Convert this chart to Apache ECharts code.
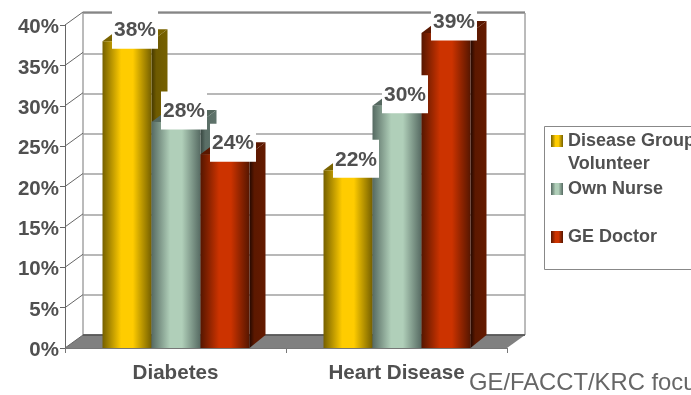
<!DOCTYPE html>
<html>
<head>
<meta charset="utf-8">
<style>html,body{margin:0;padding:0;background:#fff;overflow:hidden}#c{width:691px;height:395px}</style>
<script src="https://cdn.jsdelivr.net/npm/echarts@6/dist/echarts.min.js"></script>
</head>
<body>
<div id="c"></div>
<script>
// Survey results: who patients would trust, by condition
const categories = ['Diabetes', 'Heart Disease'];
const volunteer = [38, 22];
const ownNurse = [28, 30];
const geDoctor = [24, 39];
const seriesNames = ['Disease Group\nVolunteer', 'Own Nurse', 'GE Doctor'];
const percentTicks = [0, 5, 10, 15, 20, 25, 30, 35, 40];
const sourceNote = 'GE/FACCT/KRC focu';

const FONT = '"Liberation Sans", Arial, sans-serif';
const INK = '#505050';
const FLOOR_DX = 18, FLOOR_DY = 13;
const BAR_DX = 16, BAR_DY = 12;
const BAR_SHARE = 0.2217;

const palettes = [
  { edge: '#756000', mid: '#ffcc00', side: ['#453800', '#6e5a00', '#766100'], top: '#7a6400' },
  { edge: '#566a62', mid: '#b0cfb9', side: ['#36453f', '#5a6e66', '#5f736b'], top: '#55685f' },
  { edge: '#561600', mid: '#cc3300', side: ['#240800', '#5c1800', '#641a00'], top: '#5a1700' }
];

function barGradient(p) {
  return {
    type: 'linear', x: 0, y: 0, x2: 1, y2: 0,
    colorStops: [
      { offset: 0, color: p.edge },
      { offset: 0.38, color: p.mid },
      { offset: 0.62, color: p.mid },
      { offset: 1, color: p.edge }
    ]
  };
}
function sideGradient(p) {
  return {
    type: 'linear', x: 0, y: 0, x2: 1, y2: 0,
    colorStops: [
      { offset: 0, color: p.side[0] },
      { offset: 0.3, color: p.side[1] },
      { offset: 1, color: p.side[2] }
    ]
  };
}

// One extruded bar: front face, right side and lid
function barRenderer(slot) {
  const p = palettes[slot];
  return function (params, api) {
    const cat = api.value(0), val = api.value(1);
    const top = api.coord([cat, val]);
    const base = api.coord([cat, 0]);
    const w = api.size([1, 0])[0] * BAR_SHARE;
    const x = top[0] + (slot - 1) * w - w / 2 + 0.5;
    return {
      type: 'group',
      children: [
        {
          type: 'polygon',
          shape: { points: [[x + w, top[1]], [x + w + BAR_DX, top[1] - BAR_DY], [x + w + BAR_DX, base[1] - FLOOR_DY], [x + w, base[1]]] },
          style: { fill: sideGradient(p) }
        },
        {
          type: 'polygon',
          shape: { points: [[x, top[1]], [x + BAR_DX, top[1] - BAR_DY], [x + w + BAR_DX, top[1] - BAR_DY], [x + w, top[1]]] },
          style: { fill: p.top }
        },
        {
          type: 'rect',
          shape: { x: x, y: top[1], width: w, height: base[1] - top[1] },
          style: { fill: barGradient(p) }
        }
      ]
    };
  };
}

// White tag with the value, sitting over the lid of its bar
function tagRenderer(slot) {
  return function (params, api) {
    const cat = api.value(0), val = api.value(1);
    const top = api.coord([cat, val]);
    const w = api.size([1, 0])[0] * BAR_SHARE;
    const cx = top[0] + (slot - 1) * w + 8.5;
    const cy = top[1] - 11.5;
    return {
      type: 'group',
      children: [
        { type: 'rect', shape: { x: cx - 23, y: cy - 19, width: 46, height: 38 }, style: { fill: '#ffffff' } },
        {
          type: 'text',
          style: { x: cx, y: cy + 1, text: val + '%', fill: INK, font: 'bold 21px ' + FONT, textAlign: 'center', textVerticalAlign: 'middle' }
        }
      ]
    };
  };
}

// Floor plate, the short diagonals joining the front axis to the back wall,
// and the darker top edge of the back wall
function floorRenderer(params, api) {
  const cs = params.coordSys;
  const b = cs.y + cs.height, l = cs.x, r = cs.x + cs.width;
  if (params.dataIndex === 0) {
    return {
      type: 'group',
      children: [
        { type: 'polygon', shape: { points: [[l, b], [l + FLOOR_DX, b - FLOOR_DY], [r + FLOOR_DX, b - FLOOR_DY], [r, b]] }, style: { fill: '#808080' } },
        { type: 'line', shape: { x1: l + FLOOR_DX, y1: b - FLOOR_DY, x2: r + FLOOR_DX, y2: b - FLOOR_DY }, style: { stroke: '#4f4f4f', lineWidth: 1.5 } },
        { type: 'line', shape: { x1: l, y1: b, x2: l + FLOOR_DX, y2: b - FLOOR_DY }, style: { stroke: '#666666', lineWidth: 1 } }
      ]
    };
  }
  const y = api.coord([0, api.value(0)])[1];
  const children = [
    { type: 'line', shape: { x1: l, y1: y, x2: l + FLOOR_DX, y2: y - FLOOR_DY }, style: { stroke: '#666666', lineWidth: 1 } }
  ];
  if (api.value(0) === percentTicks[percentTicks.length - 1]) {
    children.push({ type: 'line', shape: { x1: l + FLOOR_DX, y1: y - FLOOR_DY, x2: r + FLOOR_DX, y2: y - FLOOR_DY }, style: { stroke: '#666666', lineWidth: 1 } });
  }
  return { type: 'group', children: children };
}

const barSeries = [volunteer, ownNurse, geDoctor].map((values, slot) => ({
  type: 'custom', name: seriesNames[slot], xAxisIndex: 0, yAxisIndex: 0, z: 3 + slot, clip: false,
  renderItem: barRenderer(slot),
  encode: { x: 0, y: 1 },
  data: values.map((v, i) => [i, v])
}));
const tagSeries = [volunteer, ownNurse, geDoctor].map((values, slot) => ({
  type: 'custom', xAxisIndex: 0, yAxisIndex: 0, z: 10, clip: false, silent: true,
  renderItem: tagRenderer(slot),
  encode: { x: 0, y: 1 },
  data: values.map((v, i) => [i, v])
}));

// Key on the right; its frame runs off the edge of the page
const legendGraphics = [
  { type: 'rect', shape: { x: 544.5, y: 126.5, width: 220, height: 143 }, style: { fill: '#fff', stroke: '#888888', lineWidth: 1 }, z: 20 }
];
const legendRowY = [135, 183, 231];
seriesNames.forEach((name, i) => {
  legendGraphics.push({ type: 'rect', shape: { x: 551, y: legendRowY[i], width: 12, height: 12 }, style: { fill: barGradient(palettes[i]) }, z: 21 });
  legendGraphics.push({
    type: 'text', x: 568, y: legendRowY[i] - 5, z: 21,
    style: { text: name, fill: INK, font: 'bold 18px ' + FONT, lineHeight: 23, textAlign: 'left', textVerticalAlign: 'top' }
  });
});

const chart = echarts.init(document.getElementById('c'), null, { renderer: 'canvas' });
chart.setOption({
  animation: false,
  backgroundColor: '#ffffff',
  grid: [
    { left: 65, top: 25, width: 442, height: 323 },
    { left: 83, top: 13, width: 442, height: 322, show: true, borderColor: '#777777', borderWidth: 1, backgroundColor: 'transparent' }
  ],
  xAxis: [
    {
      type: 'category', gridIndex: 0, data: categories, z: 8,
      axisLine: { show: true, onZero: false, lineStyle: { color: '#777777', width: 1 } },
      axisTick: { show: true, alignWithLabel: false, length: 5, lineStyle: { color: '#777777' } },
      axisLabel: { color: INK, fontFamily: FONT, fontWeight: 'bold', fontSize: 20.6, margin: 15 }
    },
    { type: 'category', gridIndex: 1, data: categories, show: false }
  ],
  yAxis: [
    {
      type: 'value', gridIndex: 0, min: 0, max: 40, interval: 5, z: 8,
      axisLine: { show: true, lineStyle: { color: '#666666', width: 1 } },
      axisTick: { show: true, length: 5, lineStyle: { color: '#666666' } },
      axisLabel: {
        margin: 6,
        formatter: '{p|{value}%}',
        rich: { p: { color: INK, fontFamily: FONT, fontWeight: 'bold', fontSize: 20.5, padding: [5, 0, 0, 0] } }
      },
      splitLine: { show: false }
    },
    {
      type: 'value', gridIndex: 1, min: 0, max: 40, interval: 5,
      axisLine: { show: false }, axisTick: { show: false }, axisLabel: { show: false },
      splitLine: { show: true, lineStyle: { color: '#a0a0a0', width: 1.5 } }
    }
  ],
  series: [
    {
      type: 'custom', xAxisIndex: 0, yAxisIndex: 0, z: 2, clip: false, silent: true,
      renderItem: floorRenderer,
      encode: { y: 0 },
      data: percentTicks.map(v => [v])
    }
  ].concat(barSeries, tagSeries),
  graphic: legendGraphics.concat([
    {
      type: 'text', x: 469, y: 371, z: 21,
      style: { text: sourceNote, fill: '#666666', font: '23.8px ' + FONT, textAlign: 'left', textVerticalAlign: 'top' }
    }
  ])
});
</script>
</body>
</html>
